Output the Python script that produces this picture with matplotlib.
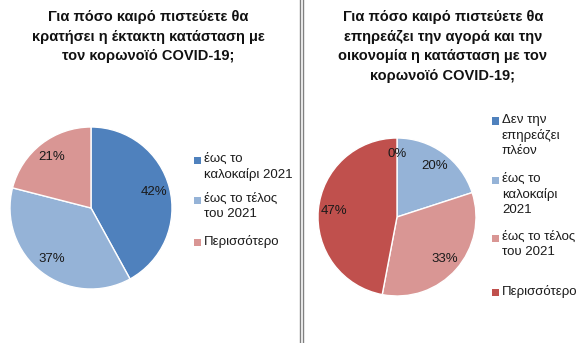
import matplotlib.pyplot as plt
from matplotlib.lines import Line2D
from matplotlib.patches import Rectangle

left_title = "Για πόσο καιρό πιστεύετε θα\nκρατήσει η έκτακτη κατάσταση με\nτον κορωνοϊό COVID-19;"
left_labels = ["έως το\nκαλοκαίρι 2021", "έως το τέλος\nτου 2021", "Περισσότερο"]
left_values = [42, 37, 21]
left_colors = ["#4F81BD", "#95B3D7", "#D99694"]

right_title = "Για πόσο καιρό πιστεύετε θα\nεπηρεάζει την αγορά και την\nοικονομία η κατάσταση με τον\nκορωνοϊό COVID-19;"
right_labels = ["Δεν την\nεπηρεάζει\nπλέον", "έως το\nκαλοκαίρι\n2021", "έως το τέλος\nτου 2021", "Περισσότερο"]
right_values = [0, 20, 33, 47]
right_colors = ["#4F81BD", "#95B3D7", "#D99694", "#C0504D"]

plt.rcParams["font.family"] = ["Liberation Sans", "DejaVu Sans"]

W, H = 585, 343
fig = plt.figure(figsize=(W / 100, H / 100), dpi=100)
text_color = "#1a1a1a"


def pie_axes(cx, cy, r):
    return fig.add_axes([(cx - r) / W, (H - cy - r) / H, 2 * r / W, 2 * r / H])


def draw_pie(ax, values, colors):
    ax.pie(values, colors=colors, startangle=90, counterclock=False,
           autopct=lambda p: f"{p:.0f}%", pctdistance=0.8,
           wedgeprops=dict(edgecolor="white", linewidth=1),
           textprops=dict(fontsize=9.5, color=text_color))
    ax.set_xlim(-1, 1)
    ax.set_ylim(-1, 1)
    ax.set_aspect("equal")
    ax.axis("off")


ax1 = pie_axes(91, 208, 81)
draw_pie(ax1, left_values, left_colors)
ax2 = pie_axes(397, 217, 79)
draw_pie(ax2, right_values, right_colors)


# legend entries drawn by hand so the square sits beside the first line
def draw_legend(labels, colors, x, first_line_y):
    for label, color, y in zip(labels, colors, first_line_y):
        fig.add_artist(Rectangle((x / W, 1 - (y + 3.5) / H), 7 / W, 7 / H,
                                 facecolor=color, edgecolor="none",
                                 transform=fig.transFigure))
        fig.text((x + 10) / W, 1 - (y - 7.5) / H, label, ha="left", va="top",
                 fontsize=9.5, linespacing=1.35, color=text_color)


draw_legend(left_labels, left_colors, 194, [160, 200, 242])
draw_legend(right_labels, right_colors, 492, [121, 180, 238, 292])

fig.text(148 / W, 1 - 10 / H, left_title, ha="center", va="top", fontsize=10.5,
         fontweight="bold", linespacing=1.52, color="#111111")
fig.text(443 / W, 1 - 10 / H, right_title, ha="center", va="top", fontsize=10.5,
         fontweight="bold", linespacing=1.52, color="#111111")

# double separator line between the two charts
for x in (300, 303):
    fig.add_artist(Line2D([x / W, x / W], [0, 1], color="#808080", linewidth=1))

fig.savefig("out.png", dpi=100, facecolor="white")
